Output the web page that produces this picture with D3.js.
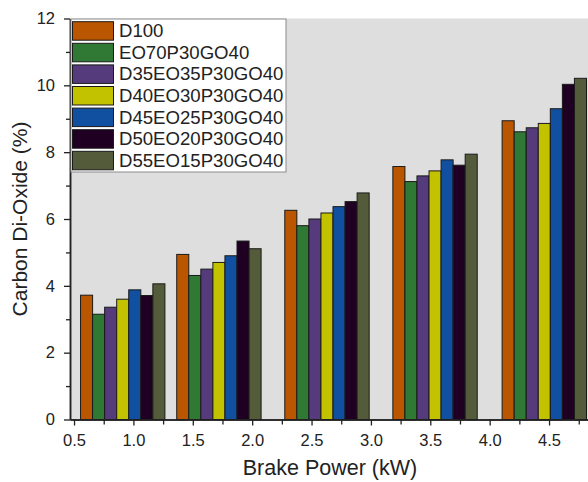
<!DOCTYPE html>
<html>
<head>
<meta charset="utf-8">
<script src="https://cdn.jsdelivr.net/npm/d3@7"></script>
<style>
  body { margin: 0; background: #fff; }
  svg text { font-family: "Liberation Sans", Arial, sans-serif; fill: #222; }
</style>
</head>
<body>
<div id="chart"></div>
<script>
'use strict';

// blends in legend order
const SERIES = ['D100', 'EO70P30GO40', 'D35EO35P30GO40', 'D40EO30P30GO40', 'D45EO25P30GO40', 'D50EO20P30GO40', 'D55EO15P30GO40']
const COLORS = ['#bb5600', '#2f7935', '#553b7b', '#c2c200', '#1150a0', '#1f0022', '#545b3b']

const brakePower = [0.91, 1.72, 2.63, 3.54, 4.46]
const d100 = [3.72, 4.94, 6.26, 7.57, 8.94]
const eo70 = [3.15, 4.31, 5.80, 7.12, 8.61]
const d35 = [3.36, 4.50, 6.00, 7.29, 8.73]
const d40 = [3.60, 4.70, 6.18, 7.44, 8.86]
const d45 = [3.88, 4.90, 6.37, 7.77, 9.30]
const d50 = [3.71, 5.34, 6.52, 7.61, 10.03]
const d55 = [4.06, 5.11, 6.78, 7.94, 10.21]
const values = [d100, eo70, d35, d40, d45, d50, d55]

const xMajor = [0.5, 1.0, 1.5, 2.0, 2.5, 3.0, 3.5, 4.0, 4.5]
const xMinor = [0.75, 1.25, 1.75, 2.25, 2.75, 3.25, 3.75, 4.25, 4.75]
const yMajor = [0, 2, 4, 6, 8, 10, 12]
const yMinor = [1, 3, 5, 7, 9, 11]

const W = 588, H = 482
const m = {top: 18.5, right: 0, bottom: 62.5, left: 70}
const BAR_W = 0.1015

const svg = d3.select('#chart').append('svg')
  .attr('width', W).attr('height', H)

const x = d3.scaleLinear().domain([0.466, 4.828]).range([m.left, W - m.right])
const y = d3.scaleLinear().domain([0, 12]).range([H - m.bottom, m.top])

// plot background
svg.append('rect')
  .attr('x', m.left).attr('y', m.top)
  .attr('width', W - m.right - m.left).attr('height', H - m.bottom - m.top)
  .attr('fill', '#dedede')

// bars
const groups = svg.append('g').selectAll('g')
  .data(SERIES).enter().append('g')
  .attr('fill', (d, i) => COLORS[i])

groups.selectAll('rect')
  .data((s, si) => brakePower.map((bp, j) => ({bp: bp, v: values[si][j], si: si})))
  .enter().append('rect')
    .attr('x', d => x(d.bp - 3.5 * BAR_W + d.si * BAR_W))
    .attr('y', d => y(d.v))
    .attr('width', d => x(BAR_W) - x(0))
    .attr('height', d => y(0) - y(d.v))
    .attr('stroke', '#1a1a1a').attr('stroke-width', 1)

// axes
const styleAxis = g => {
  g.select('.domain').attr('stroke', '#222').attr('stroke-width', 1.5)
  g.selectAll('.tick line').attr('stroke', '#222').attr('stroke-width', 1.3)
  g.selectAll('.tick text').style('font-size', '16.5px').attr('fill', '#222')
}

svg.append('g')
  .attr('transform', 'translate(0,' + y(0) + ')')
  .call(d3.axisBottom(x).tickValues(xMinor).tickFormat('').tickSize(5).tickSizeOuter(0))
  .call(styleAxis)
svg.append('g')
  .attr('transform', 'translate(0,' + y(0) + ')')
  .call(d3.axisBottom(x).tickValues(xMajor).tickFormat(d3.format('.1f')).tickSize(6).tickPadding(9).tickSizeOuter(0))
  .call(styleAxis)

svg.append('g')
  .attr('transform', 'translate(' + m.left + ',0)')
  .call(d3.axisLeft(y).tickValues(yMinor).tickFormat('').tickSize(4).tickSizeOuter(0))
  .call(styleAxis)
svg.append('g')
  .attr('transform', 'translate(' + m.left + ',0)')
  .call(d3.axisLeft(y).tickValues(yMajor).tickSize(6).tickPadding(9).tickSizeOuter(0))
  .call(styleAxis)

// axis titles
svg.append('text')
  .attr('x', 330).attr('y', 475)
  .attr('text-anchor', 'middle')
  .style('font-size', '21.5px')
  .text('Brake Power (kW)')

svg.append('text')
  .attr('transform', 'translate(27,' + ((m.top + H - m.bottom) / 2) + ') rotate(-90)')
  .attr('text-anchor', 'middle')
  .style('font-size', '21px')
  .text('Carbon Di-Oxide (%)')

// legend
const legend = svg.append('g').attr('transform', 'translate(71,19)')
legend.append('rect')
  .attr('width', 215).attr('height', 153)
  .attr('fill', '#fff').attr('stroke', '#8a8a8a').attr('stroke-width', 1)

const item = legend.selectAll('g.item')
  .data(SERIES).enter().append('g')
  .attr('class', 'item')
  .attr('transform', (d, i) => 'translate(0,' + (2.7 + i * 21.6) + ')')

item.append('rect')
  .attr('x', 1.5).attr('width', 41).attr('height', 18.5)
  .attr('fill', (d, i) => COLORS[i])
  .attr('stroke', '#1a1a1a').attr('stroke-width', 1)

item.append('text')
  .attr('x', 48).attr('y', 15.4)
  .style('font-size', '18.6px')
  .text(d => d)
</script>
</body>
</html>
